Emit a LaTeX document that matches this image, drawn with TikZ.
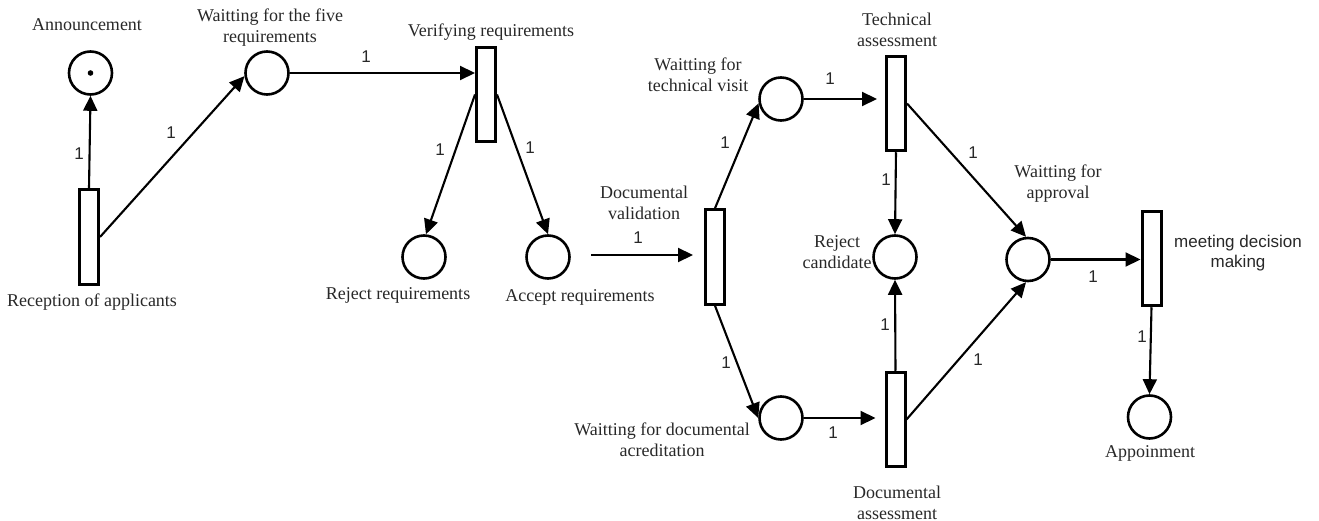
\documentclass[tikz,border=0pt]{standalone}
\usepackage{fontspec}
\setmainfont{Liberation Serif}
\newfontfamily\arialfont{Liberation Sans}
\usetikzlibrary{arrows.meta}
\definecolor{txtgray}{RGB}{40,40,40}
\begin{document}
\begin{tikzpicture}[x=1pt,y=-1pt,
  place/.style={circle,draw,line width=2.6pt,minimum size=43pt,inner sep=0pt},
  trans/.style={rectangle,draw,line width=3pt,minimum width=19pt,minimum height=94.5pt,inner sep=0pt},
  arc/.style={line width=2.1pt,-{Triangle[length=15pt,width=14pt]}},
  lbl/.style={font=\fontsize{18}{21}\selectfont,align=center,inner sep=0pt,text=txtgray},
  wt/.style={font=\arialfont\fontsize{17}{20}\selectfont,inner sep=0pt,text=txtgray}]
\useasboundingbox (0,0) rectangle (1319,521);

% places
\node[place] (ann) at (90.5,73) {};
\node[place] (w5) at (267,73) {};
\node[place] (rr) at (424,257) {};
\node[place] (ar) at (548,257) {};
\node[place] (tv) at (781,99) {};
\node[place] (da) at (781,418) {};
\node[place] (rc) at (895,257) {};
\node[place] (appr) at (1028,259.5) {};
\node[place] (app) at (1149.5,417) {};
\fill (ann.center) circle (2.8pt);

% transitions
\node[trans] (rec) at (89,237) {};
\node[trans] (ver) at (486,94.5) {};
\node[trans] (dv) at (715,257) {};
\node[trans] (ta) at (896,103.5) {};
\node[trans] (das) at (895.5,419.5) {};
\node[trans] (md) at (1151.5,258.5) {};

% labels
\node[lbl] (lann) at (87,25) {Announcement};
\node[lbl] (lw5) at (270,28) {Waitting for the five\\requirements};
\node[lbl] (lver) at (491,32) {Verifying requirements};
\node[lbl] (lrec) at (92,302) {Reception of applicants};
\node[lbl] (lrr) at (398,295) {Reject requirements};
\node[lbl] (lar) at (580,297) {Accept requirements};
\node[lbl] (ldv) at (644,203) {Documental\\validation};
\node[lbl] (ltv) at (698,75) {Waitting for\\technical visit};
\node[lbl] (lta) at (897,30) {Technical\\assessment};
\node[lbl] (lrc) at (837,252.5) {Reject\\candidate};
\node[lbl] (lda) at (662,440) {Waitting for documental\\acreditation};
\node[lbl] (ldas) at (897,503) {Documental\\assessment};
\node[lbl] (lappr) at (1058,184) {Waitting for\\approval};
\node[wt,align=center] (lmd) at (1238,253) {meeting decision\\making};
\node[lbl] (lapp) at (1150,453) {Appoinment};

% arcs
\draw[arc] (rec.north) -- (ann.south);
\draw[arc] (rec.east) -- (w5.188);
\draw[arc] (w5.east) -- (w5.east -| ver.west);
\draw[arc] (ver.west) -- (rr.85);
\draw[arc] (ver.east) -- (ar.north);
\coordinate (dvin) at (591,255);
\draw[arc,shorten >=11pt] (dvin) -- (dvin -| dv.west);
\draw[arc] (dv.north) -- (tv.191);
\draw[arc] (dv.south) -- (da.west);
\draw[arc,shorten >=8pt] (tv.east) -- (tv.east -| ta.west);
\draw[arc,shorten >=9pt] (da.east) -- (da.east -| das.west);
\draw[arc] (ta.south) -- (rc.north);
\draw[arc] (das.north) -- (rc.south);
\draw[arc] (ta.east) -- (appr.95);
\draw[arc] (das.east) -- (appr.265);
\draw[arc] (appr.east) -- (appr.east -| md.west);
\draw[arc] (md.south) -- (app.north);

% weights
\node[wt] (n1) at (79,154) {1};
\node[wt] (n2) at (171,133) {1};
\node[wt] (n3) at (366,57) {1};
\node[wt] (n4) at (440,150) {1};
\node[wt] (n5) at (530,148) {1};
\node[wt] (n6) at (638,238) {1};
\node[wt] (n7) at (725,143) {1};
\node[wt] (n8) at (726,363) {1};
\node[wt] (n9) at (830,79) {1};
\node[wt] (n10) at (833,433) {1};
\node[wt] (n11) at (886,180) {1};
\node[wt] (n12) at (885,325) {1};
\node[wt] (n13) at (973,153) {1};
\node[wt] (n14) at (978,360) {1};
\node[wt] (n15) at (1093,277) {1};
\node[wt] (n16) at (1142,337) {1};
\end{tikzpicture}
\end{document}
